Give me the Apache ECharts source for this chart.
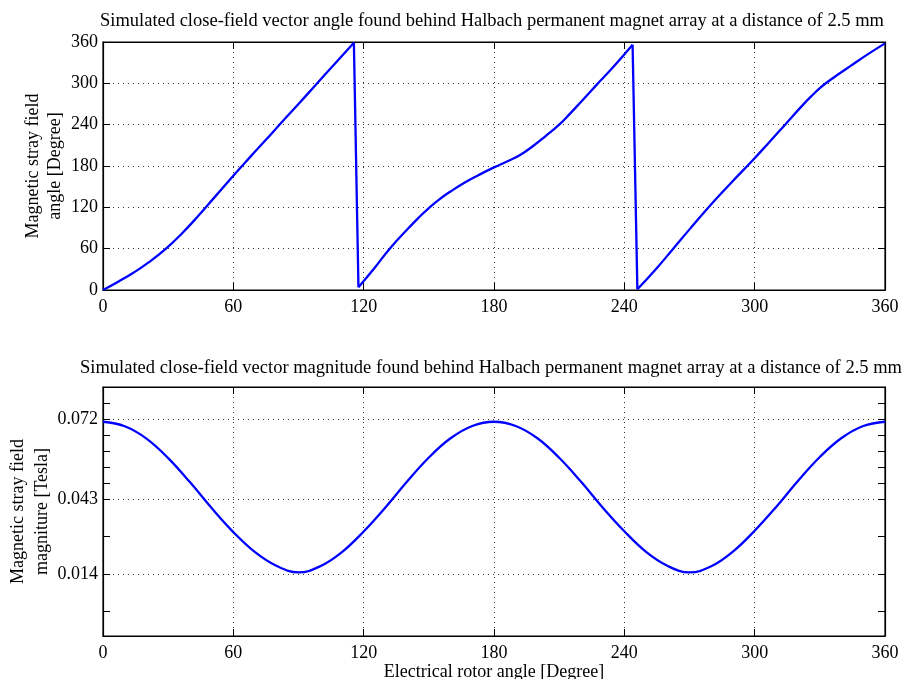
<!DOCTYPE html>
<html>
<head>
<meta charset="utf-8">
<script src="https://cdn.jsdelivr.net/npm/echarts@6/dist/echarts.min.js"></script>
<style>
  html, body { margin: 0; padding: 0; background: #fff; }
  #chart { width: 905px; height: 679px; }
</style>
</head>
<body>
<div id="chart"></div>
<script>
// top plot: vector angle [deg] vs electrical rotor angle [deg]
var angleData = [
  [0, 0], [7, 12], [14, 25], [21, 40], [29, 60], [36, 81], [44, 108], [52, 137],
  [60, 166], [68, 194], [75, 218], [83, 246], [90, 270], [98, 298], [106, 326],
  [115.5, 359], [117.6, 4], [125, 32], [132, 60], [141, 91], [145, 104], [150, 119],
  [155, 132], [160, 143], [166, 155], [173, 167], [180, 178], [187, 188], [192, 196],
  [198, 209], [204, 224], [210, 240], [215, 256], [220, 273], [227, 297], [235, 324],
  [243.8, 356],
  [246, 1], [255, 32], [262.5, 60], [270, 88], [279, 121], [289, 155], [299, 188],
  [306, 212], [314, 240], [322, 268], [326, 281], [330, 293], [334, 303], [338, 312],
  [344, 325], [352, 342], [360, 358]
];

// bottom plot: vector magnitude [T], one value every 10 deg
var rotorAngles = [0, 10, 20, 30, 40, 50, 60, 70, 80, 90, 100, 110, 120, 130, 140, 150, 160, 170, 180,
  190, 200, 210, 220, 230, 240, 250, 260, 270, 280, 290, 300, 310, 320, 330, 340, 350, 360];
var magnitude = [0.0710, 0.0693, 0.0647, 0.0574, 0.0484, 0.0387, 0.0297, 0.0222, 0.0170, 0.0146,
  0.0169, 0.0222, 0.0299, 0.0389, 0.0486, 0.0576, 0.0648, 0.0694, 0.0710,
  0.0694, 0.0648, 0.0575, 0.0486, 0.0389, 0.0300, 0.0223, 0.0170, 0.0146,
  0.0169, 0.0224, 0.0302, 0.0392, 0.0489, 0.0578, 0.0649, 0.0694, 0.0710];

var magTickValues = [0.014, 0.042, 0.072];
var magTickLabels = ['0.014', '0.043', '0.072'];
var magMinorTicks = [0, 0.014, 0.028, 0.042, 0.048, 0.054, 0.060, 0.066, 0.072, 0.078];

var titleTop = 'Simulated close-field vector angle found behind Halbach permanent magnet array at a distance of 2.5 mm';
var titleBottom = 'Simulated close-field vector magnitude found behind Halbach permanent magnet array at a distance of 2.5 mm';

var font = 'Liberation Serif';
var dotted = { color: '#333', width: 1, type: [1, 4] };
var tick = { show: true, inside: true, length: 7, lineStyle: { color: '#000', width: 1 } };
var blue = { color: '#0000ff', width: 2.3 };

function xAx(gridIndex, pos, withLabels, name) {
  return {
    type: 'value', gridIndex: gridIndex, position: pos,
    min: 0, max: 360, interval: 60,
    axisLine: { show: true, onZero: false, lineStyle: { color: '#000', width: 1.2 } },
    axisTick: tick,
    axisLabel: { show: withLabels, color: '#000', fontFamily: font, fontSize: 18, margin: 8 },
    splitLine: { show: withLabels, lineStyle: dotted },
    name: name || '', nameLocation: 'middle', nameGap: 27, nameMoveOverlap: false,
    nameTextStyle: { color: '#000', fontFamily: font, fontSize: 18 }
  };
}

// split the angle curve at the wrap-arounds: smooth rising runs + straight drops
var series = [];
var run = [angleData[0]];
for (var i = 1; i < angleData.length; i++) {
  var prev = angleData[i - 1], cur = angleData[i];
  if (cur[1] < prev[1] - 180) {
    series.push({ type: 'line', xAxisIndex: 0, yAxisIndex: 0, data: run, showSymbol: false,
      smooth: 0.5, lineStyle: blue });
    series.push({ type: 'line', xAxisIndex: 0, yAxisIndex: 0, data: [prev, cur], showSymbol: false,
      lineStyle: blue });
    run = [cur];
  } else {
    run.push(cur);
  }
}
series.push({ type: 'line', xAxisIndex: 0, yAxisIndex: 0, data: run, showSymbol: false,
  smooth: 0.5, lineStyle: blue });

series.push({
  type: 'line', xAxisIndex: 2, yAxisIndex: 2,
  data: rotorAngles.map(function (a, i) { return [a, magnitude[i]]; }),
  showSymbol: false, smooth: 0.4, lineStyle: blue
});

var option = {
  animation: false,
  backgroundColor: '#fff',
  title: [
    { text: titleTop, left: 100, top: 12, padding: 0,
      textStyle: { fontFamily: font, fontSize: 18.5, fontWeight: 'normal', color: '#000' } },
    { text: titleBottom, left: 80, top: 359, padding: 0,
      textStyle: { fontFamily: font, fontSize: 18.5, fontWeight: 'normal', color: '#000' } }
  ],
  grid: [
    { left: 103, top: 42, width: 782, height: 248, show: true, borderColor: '#000', borderWidth: 1.2,
      outerBoundsMode: 'none', containLabel: false },
    { left: 103, top: 387, width: 782, height: 249, show: true, borderColor: '#000', borderWidth: 1.2,
      outerBoundsMode: 'none', containLabel: false }
  ],
  xAxis: [
    xAx(0, 'bottom', true),
    xAx(0, 'top', false),
    xAx(1, 'bottom', true, 'Electrical rotor angle [Degree]'),
    xAx(1, 'top', false)
  ],
  yAxis: [
    {
      type: 'value', gridIndex: 0, position: 'left', min: 0, max: 360, interval: 60,
      axisLine: { show: true, onZero: false, lineStyle: { color: '#000', width: 1.2 } },
      axisTick: tick,
      axisLabel: { color: '#000', fontFamily: font, fontSize: 18, margin: 5 },
      splitLine: { show: true, lineStyle: dotted },
      name: 'Magnetic stray field\nangle [Degree]', nameLocation: 'middle', nameGap: 37, nameRotate: 90,
      nameMoveOverlap: false,
      nameTextStyle: { color: '#000', fontFamily: font, fontSize: 18, lineHeight: 22 }
    },
    {
      type: 'value', gridIndex: 0, position: 'right', min: 0, max: 360, interval: 60,
      axisLine: { show: true, onZero: false, lineStyle: { color: '#000', width: 1.2 } },
      axisTick: tick, axisLabel: { show: false }, splitLine: { show: false }
    },
    {
      type: 'value', gridIndex: 1, position: 'left', min: -0.0092, max: 0.084,
      axisLine: { show: true, onZero: false, lineStyle: { color: '#000', width: 1.2 } },
      axisTick: Object.assign({}, tick, { customValues: magTickValues }),
      axisLabel: {
        color: '#000', fontFamily: font, fontSize: 18, margin: 5,
        customValues: magTickValues,
        formatter: function (v) {
          var i = magTickValues.indexOf(v);
          return i >= 0 ? magTickLabels[i] : '';
        }
      },
      splitLine: { show: true, lineStyle: dotted },
      name: 'Magnetic stray field\nmagniture [Tesla]', nameLocation: 'middle', nameGap: 49, nameRotate: 90,
      nameMoveOverlap: false,
      nameTextStyle: { color: '#000', fontFamily: font, fontSize: 18, lineHeight: 24 }
    },
    {
      type: 'value', gridIndex: 1, position: 'right', min: -0.0092, max: 0.084,
      axisLine: { show: true, onZero: false, lineStyle: { color: '#000', width: 1.2 } },
      axisTick: Object.assign({}, tick, { customValues: magMinorTicks }),
      axisLabel: { show: false }, splitLine: { show: false }
    },
    {
      type: 'value', gridIndex: 1, position: 'left', min: -0.0092, max: 0.084,
      axisLine: { show: false, onZero: false },
      axisTick: Object.assign({}, tick, { customValues: magMinorTicks }),
      axisLabel: { show: false }, splitLine: { show: false }
    }
  ],
  series: series
};

var myChart = echarts.init(document.getElementById('chart'));
myChart.setOption(option);
</script>
</body>
</html>
